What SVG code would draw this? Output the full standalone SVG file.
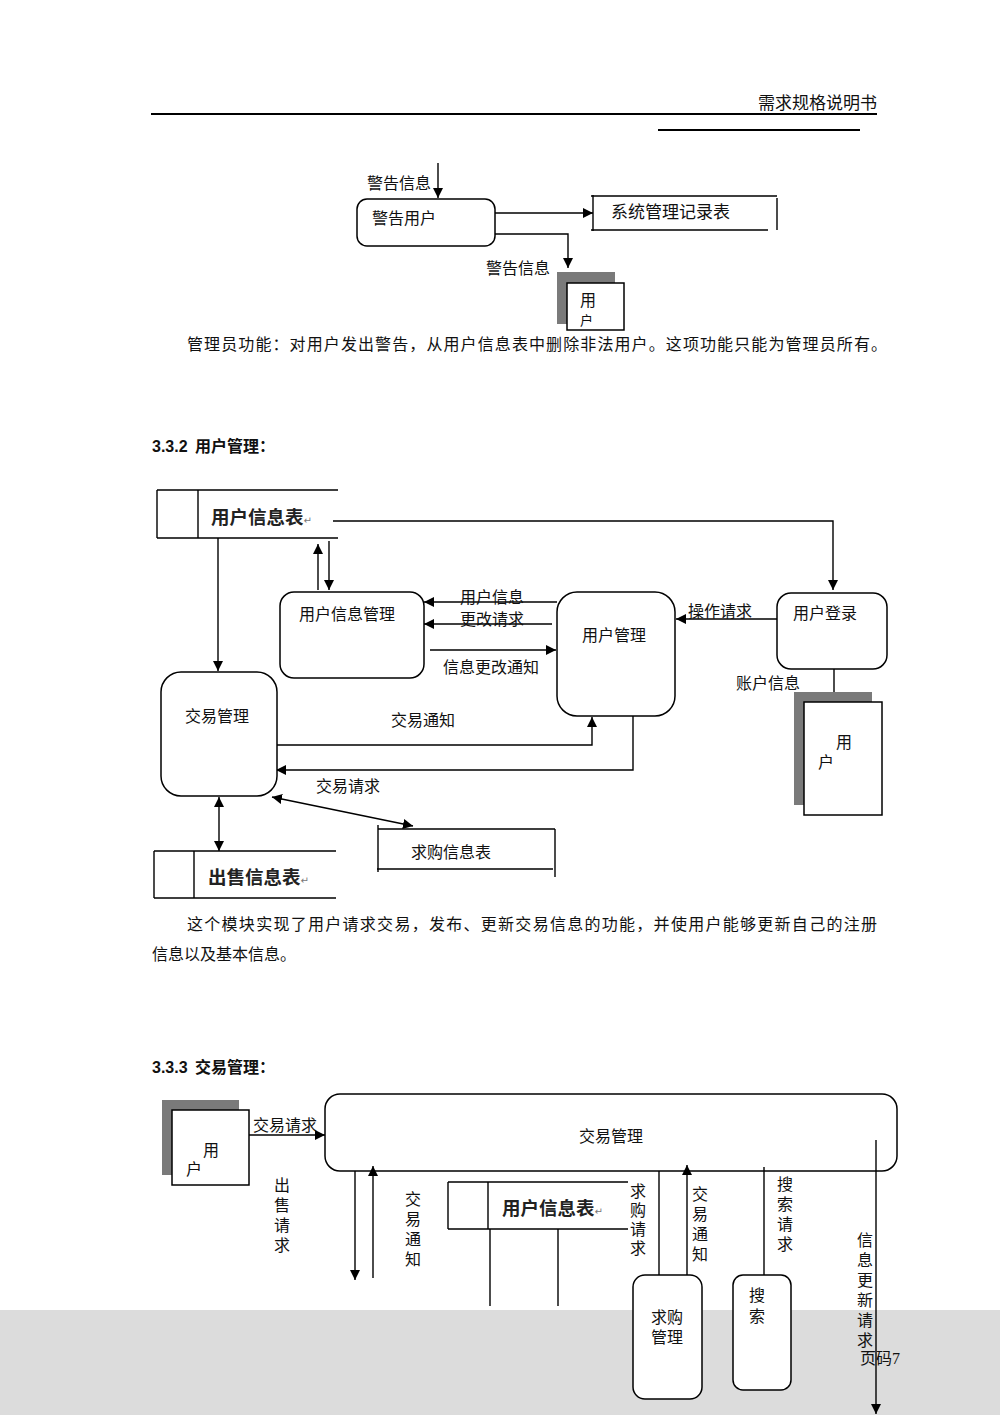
<svg xmlns="http://www.w3.org/2000/svg" width="1000" height="1415" viewBox="0 0 1000 1415">
<style>
text{font-family:"Liberation Serif","Noto Sans CJK SC",serif;font-size:16px;fill:#111}
.b{font-weight:bold;font-family:"Liberation Sans","Noto Sans CJK SC",sans-serif;font-size:16px}
.st{font-family:"Noto Sans CJK SC",sans-serif;font-weight:bold;font-size:18.5px;fill:#222}
.ret{font-family:"DejaVu Sans",sans-serif;font-size:10px;font-weight:normal;fill:#777}
.box{fill:#fff;stroke:#000;stroke-width:1.5}
.ln{fill:none;stroke:#000;stroke-width:1.4}
.sh{fill:#7a7a7a}
</style>
<defs>
<marker id="a" viewBox="0 0 10 10" refX="10" refY="5" markerWidth="10" markerHeight="10" markerUnits="userSpaceOnUse" orient="auto-start-reverse"><path d="M0,0 L10,5 L0,10 z" fill="#000"/></marker>
</defs>
<rect x="0" y="0" width="1000" height="1415" fill="#fff"/>
<rect x="0" y="1310" width="1000" height="105" fill="#dcdcdc"/>

<!-- header -->
<g id="header">
<text x="877" y="109" text-anchor="end" style="font-size:17px">需求规格说明书</text>
<line x1="151" y1="114" x2="877" y2="114" stroke="#000" stroke-width="2"/>
<line x1="658" y1="130" x2="860" y2="130" stroke="#000" stroke-width="2"/>
</g>

<!-- connectors -->
<g id="connectors">
<path class="ln" d="M438,163 V198" marker-end="url(#a)"/>
<path class="ln" d="M495,213 H593" marker-end="url(#a)"/>
<path class="ln" d="M495,234 H568 V268" marker-end="url(#a)"/>

<path class="ln" d="M333,521 H833 V590" marker-end="url(#a)"/>
<path class="ln" d="M218,538 V671" marker-end="url(#a)"/>
<path class="ln" d="M318,590 V544" marker-end="url(#a)"/>
<path class="ln" d="M329,541 V590" marker-end="url(#a)"/>
<path class="ln" d="M557,602 H424" marker-end="url(#a)"/>
<path class="ln" d="M552,624 H424" marker-end="url(#a)"/>
<path class="ln" d="M430,650 H556" marker-end="url(#a)"/>
<path class="ln" d="M777,619 H676" marker-end="url(#a)"/>
<path class="ln" d="M834,669 V692"/>
<path class="ln" d="M277,745 H592 V717" marker-end="url(#a)"/>
<path class="ln" d="M633,716 V770 H276" marker-end="url(#a)"/>
<path class="ln" d="M272,797 L413,826" marker-start="url(#a)" marker-end="url(#a)"/>
<path class="ln" d="M219,797 V851" marker-start="url(#a)" marker-end="url(#a)"/>

<path class="ln" d="M249,1135 H325" marker-end="url(#a)"/>
<path class="ln" d="M355,1171 V1280" marker-end="url(#a)"/>
<path class="ln" d="M373,1278 V1166" marker-end="url(#a)"/>
<path class="ln" d="M490,1229 V1306"/>
<path class="ln" d="M558,1229 V1306"/>
<path class="ln" d="M659,1171 V1276"/>
<path class="ln" d="M687,1276 V1165" marker-end="url(#a)"/>
<path class="ln" d="M764,1167 V1275"/>
<path class="ln" d="M876,1140 V1414" marker-end="url(#a)"/>
</g>

<!-- connector labels -->
<g id="labels">
<text x="367" y="189">警告信息</text>
<text x="486" y="274">警告信息</text>
<text x="460" y="603">用户信息</text>
<text x="460" y="625">更改请求</text>
<text x="443" y="673">信息更改通知</text>
<text x="688" y="617">操作请求</text>
<text x="736" y="689">账户信息</text>
<text x="391" y="726">交易通知</text>
<text x="316" y="792">交易请求</text>
<text x="253" y="1131">交易请求</text>
<text text-anchor="middle"><tspan x="282" y="1191">出</tspan><tspan x="282" y="1211">售</tspan><tspan x="282" y="1231">请</tspan><tspan x="282" y="1251">求</tspan></text>
<text text-anchor="middle"><tspan x="413" y="1205">交</tspan><tspan x="413" y="1225">易</tspan><tspan x="413" y="1245">通</tspan><tspan x="413" y="1265">知</tspan></text>
<text text-anchor="middle"><tspan x="638" y="1197">求</tspan><tspan x="638" y="1216">购</tspan><tspan x="638" y="1235">请</tspan><tspan x="638" y="1254">求</tspan></text>
<text text-anchor="middle"><tspan x="700" y="1200">交</tspan><tspan x="700" y="1220">易</tspan><tspan x="700" y="1240">通</tspan><tspan x="700" y="1260">知</tspan></text>
<text text-anchor="middle"><tspan x="785" y="1190">搜</tspan><tspan x="785" y="1210">索</tspan><tspan x="785" y="1230">请</tspan><tspan x="785" y="1250">求</tspan></text>
<text text-anchor="middle"><tspan x="865" y="1246">信</tspan><tspan x="865" y="1266">息</tspan><tspan x="865" y="1286">更</tspan><tspan x="865" y="1306">新</tspan><tspan x="865" y="1326">请</tspan><tspan x="865" y="1346">求</tspan></text>
</g>

<!-- section 1 -->
<g id="n-warn"><rect class="box" x="357" y="199" width="138" height="47" rx="10"/><text x="372" y="224">警告用户</text></g>
<g id="n-syslog">
<path class="ln" d="M591,196 H777 M591,230 H768 M593,195 V231 M777,198 V230"/>
<text x="611" y="218" style="font-size:17px">系统管理记录表</text>
</g>
<g id="n-user1">
<rect class="sh" x="557" y="272" width="58" height="52"/>
<rect class="box" x="567" y="283" width="57" height="47"/>
<text x="580" y="306">用</text><text x="580" y="325" style="font-size:13px">户</text>
</g>
<g id="p1"><text x="187" y="350" textLength="700">管理员功能：对用户发出警告，从用户信息表中删除非法用户。这项功能只能为管理员所有。</text></g>
<g id="h332"><text class="b" x="152" y="452">3.3.2<tspan x="195">用户管理：</tspan></text></g>

<!-- section 2 -->
<g id="n-userinfo">
<path class="ln" d="M157,490 H338 M157,538 H338 M157,490 V538 M198,490 V538"/>
<text class="st" x="211" y="524">用户信息表<tspan class="ret">↵</tspan></text>
</g>
<g id="n-uim"><rect class="box" x="280" y="592" width="144" height="86" rx="14"/><text x="299" y="620">用户信息管理</text></g>
<g id="n-um"><rect class="box" x="557" y="592" width="118" height="124" rx="20"/><text x="582" y="641">用户管理</text></g>
<g id="n-login"><rect class="box" x="777" y="593" width="110" height="76" rx="14"/><text x="793" y="619">用户登录</text></g>
<g id="n-user2">
<rect class="sh" x="794" y="692" width="78" height="113"/>
<rect class="box" x="804" y="702" width="78" height="113"/>
<text x="836" y="748">用</text><text x="818" y="768">户</text>
</g>
<g id="n-trade"><rect class="box" x="161" y="672" width="116" height="124" rx="20"/><text x="185" y="722">交易管理</text></g>
<g id="n-buyinfo">
<path class="ln" d="M378,829 H555 M377,869 H553 M378,825 V872 M555,829 V877"/>
<text x="411" y="858">求购信息表</text>
</g>
<g id="n-sellinfo">
<path class="ln" d="M154,851 H336 M154,898 H336 M154,851 V898 M194,851 V898"/>
<text class="st" x="208" y="884">出售信息表<tspan class="ret">↵</tspan></text>
</g>
<g id="p2">
<text x="187" y="930" textLength="690">这个模块实现了用户请求交易，发布、更新交易信息的功能，并使用户能够更新自己的注册</text>
<text x="152" y="960">信息以及基本信息。</text>
</g>
<g id="h333"><text class="b" x="152" y="1073">3.3.3<tspan x="195">交易管理：</tspan></text></g>

<!-- section 3 -->
<g id="n-user3">
<rect class="sh" x="162" y="1100" width="77" height="75"/>
<rect class="box" x="172" y="1110" width="77" height="75"/>
<text x="203" y="1156">用</text><text x="186" y="1175">户</text>
</g>
<g id="n-trade2"><rect class="box" x="325" y="1094" width="572" height="77" rx="15" style="fill:none"/><text x="611" y="1142" text-anchor="middle">交易管理</text></g>
<g id="n-userinfo2">
<path class="ln" d="M448,1182 H628 M448,1229 H628 M448,1182 V1229 M488,1182 V1229"/>
<text class="st" x="502" y="1215">用户信息表<tspan class="ret">↵</tspan></text>
</g>
<g id="n-buymgr"><rect class="box" x="633" y="1275" width="69" height="124" rx="12"/><text x="651" y="1323">求购</text><text x="651" y="1343">管理</text></g>
<g id="n-search"><rect class="box" x="733" y="1275" width="58" height="115" rx="10"/><text x="749" y="1301">搜</text><text x="749" y="1322">索</text></g>
<g id="footer"><text x="860" y="1364">页码7</text></g>
</svg>
